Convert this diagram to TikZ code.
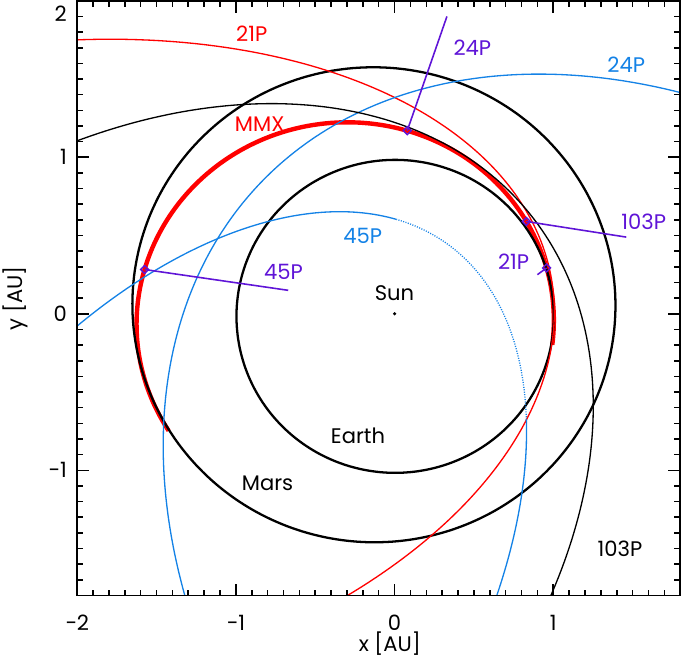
\documentclass[tikz,border=0pt]{standalone}
\usepackage{fontspec}
\setmainfont{Poppins}
\usetikzlibrary{shapes.geometric}
\definecolor{cometblue}{RGB}{20,130,230}
\definecolor{flyby}{RGB}{95,20,215}
% projected heliocentric orbit: {style}{nu range}{q}{e}{i}{Omega}{omega}
\newcommand{\orbit}[7]{%
  \draw[#1] plot[variable=\t, domain=#2, samples=300]
  ({#3*(1+#4)/(1+#4*cos(\t))*(cos(#6)*cos(#7+\t)-sin(#6)*sin(#7+\t)*cos(#5))},
   {#3*(1+#4)/(1+#4*cos(\t))*(sin(#6)*cos(#7+\t)+cos(#6)*sin(#7+\t)*cos(#5))});}
\begin{document}
\begin{tikzpicture}[x=3.174cm,y=3.13cm,
  orbitline/.style={line width=0.75pt},
  planet/.style={line width=1.3pt},
  mmxpath/.style={red,line width=2.5pt},
  marker/.style={diamond,draw=flyby,line width=0.8pt,inner sep=0pt,minimum size=0.17cm},
  flybyline/.style={flyby,line width=0.9pt},
  lbl/.style={font=\fontsize{12}{14}\selectfont,inner sep=0pt},
  tick/.style={line width=0.9pt}]
\useasboundingbox (-2.486,-2.212) rectangle (1.830,2.005);
\begin{scope}
  \clip (-2,-1.8) rectangle (1.8,2);
  % transfer orbit and planets
  \orbit{mmxpath}{-21.3:197.7}{1.0}{0.24}{0}{0}{10}
  \orbit{planet}{-180:180}{0.9833}{0.0167}{0}{0}{102.9}
  \orbit{planet}{-180:180}{1.3814}{0.0934}{1.85}{49.56}{286.5}
  % comets
  \orbit{orbitline,red}{-180:180}{1.013}{0.7107}{32.0}{195.4}{172.8}
  \orbit{orbitline,cometblue}{-180:180}{1.2059}{0.7048}{11.48}{78.63}{57.89}
  \orbit{orbitline}{-180:180}{1.064}{0.6938}{13.6}{219.75}{181.35}
  \orbit{orbitline,cometblue}{34:180}{0.557}{0.8175}{4.33}{87.9}{327.0}
  \orbit{orbitline,cometblue,dash pattern=on 0.6pt off 0.8pt}{-94:34}{0.557}{0.8175}{4.33}{87.9}{327.0}
  \orbit{orbitline,cometblue}{-180:-94}{0.557}{0.8175}{4.33}{87.9}{327.0}
\end{scope}
% flyby points
\node[marker] (m24) at (0.080,1.170) {};
\node[marker] (m103) at (0.830,0.590) {};
\node[marker] (m21) at (0.958,0.293) {};
\node[marker] (m45) at (-1.575,0.283) {};
\coordinate (c24) at (0.33,1.90);
\coordinate (c103) at (1.46,0.49);
\coordinate (c21) at (0.90,0.25);
\coordinate (c45) at (-0.67,0.15);
\draw[flybyline] (m24.center) -- (c24);
\draw[flybyline] (m103.center) -- (c103);
\draw[flybyline] (m21.center) -- (c21);
\draw[flybyline] (m45.center) -- (c45);
% sun
\node[circle,fill,inner sep=0pt,minimum size=0.07cm] (sun) at (0,0) {};
% labels
\node[lbl] (sunlbl) at (0,0.13) {Sun};
\node[lbl] (earthlbl) at (-0.23,-0.78) {Earth};
\node[lbl] (marslbl) at (-0.80,-1.08) {Mars};
\node[lbl,red] (mmxlbl) at (-0.85,1.21) {MMX};
\node[lbl,red] (lbl21) at (-0.90,1.79) {21P};
\node[lbl,cometblue] (lbl24) at (1.46,1.59) {24P};
\node[lbl,cometblue] (lbl45) at (-0.20,0.50) {45P};
\node[lbl] (lbl103) at (1.42,-1.50) {103P};
\node[lbl,flyby] (f24) at (0.49,1.70) {24P};
\node[lbl,flyby] (f103) at (1.57,0.59) {103P};
\node[lbl,flyby] (f21) at (0.75,0.33) {21P};
\node[lbl,flyby] (f45) at (-0.70,0.27) {45P};
% frame and ticks
\draw[line width=1.1pt] (-2,-1.8) rectangle (1.8,2);
\foreach \i in {-20,...,18}{
  \pgfmathsetmacro\ticklen{ifthenelse(mod(\i,10)==0,0.24,0.12)}
  \draw[tick] (\i/10,-1.8) -- ++(0,\ticklen cm) (\i/10,2) -- ++(0,-\ticklen cm);
}
\foreach \i in {-18,...,20}{
  \pgfmathsetmacro\ticklen{ifthenelse(mod(\i,10)==0,0.24,0.12)}
  \draw[tick] (-2,\i/10) -- ++(\ticklen cm,0) (1.8,\i/10) -- ++(-\ticklen cm,0);
}
\foreach \v/\txt [count=\n] in {-2/−2,-1/−1,0/0,1/1}
  \node[lbl,anchor=north,yshift=-0.38cm] (xtick\n) at (\v,-1.8) {\txt};
\foreach \v/\txt [count=\n] in {-1/−1,0/0,1/1}
  \node[lbl,anchor=east,xshift=-0.2cm] (ytick\n) at (-2,\v) {\txt};
\node[lbl,anchor=north east,xshift=-0.2cm,yshift=-0.09cm] (ytop) at (-2,2) {2};
\node[lbl] (xlabel) at (-0.03,-2.11) {x [AU]};
\node[lbl,rotate=90] (ylabel) at (-2.39,0.10) {y [AU]};
\end{tikzpicture}
\end{document}
